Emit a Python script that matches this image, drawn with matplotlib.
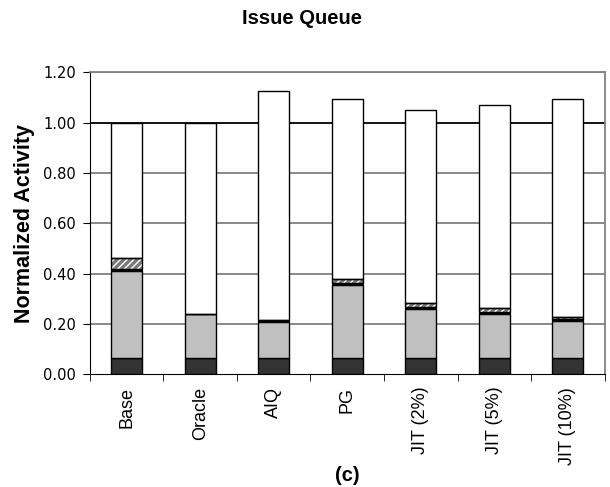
import numpy as np
import matplotlib
matplotlib.use("Agg")
import matplotlib.pyplot as plt

# activity breakdown per issue-queue scheme (stacked, normalized to Base)
labels = ['Base', 'Oracle', 'AIQ', 'PG', 'JIT (2%)', 'JIT (5%)', 'JIT (10%)']
seg_dark = [0.063, 0.063, 0.063, 0.063, 0.063, 0.063, 0.063]
seg_gray = [0.347, 0.176, 0.143, 0.291, 0.196, 0.176, 0.149]
seg_black = [0.010, 0.000, 0.009, 0.009, 0.009, 0.009, 0.006]
seg_hatch = [0.042, 0.000, 0.000, 0.017, 0.017, 0.017, 0.010]
totals = [1.000, 1.000, 1.125, 1.095, 1.050, 1.070, 1.095]

seg_white = [t - (a + b + c + d) for t, a, b, c, d in
             zip(totals, seg_dark, seg_gray, seg_black, seg_hatch)]

plt.rcParams['font.family'] = ['Liberation Sans', 'DejaVu Sans']

fig = plt.figure(figsize=(6.1, 4.87), dpi=100)
ax = fig.add_axes([0.1475, 0.2314, 0.8435, 0.6201])

x = np.arange(len(labels))
w = 0.42
bottom = np.zeros(len(labels))

ax.bar(x, seg_dark, w, bottom=bottom, color='#333333', edgecolor='black', linewidth=1, zorder=3)
bottom += seg_dark
ax.bar(x, seg_gray, w, bottom=bottom, color='#c0c0c0', edgecolor='black', linewidth=1, zorder=3)
bottom += seg_gray
ax.bar(x, seg_black, w, bottom=bottom, color='black', edgecolor='black', linewidth=0.8, zorder=3)
bottom += seg_black
# hatched layer: white stripes on gray, then black outline on top
ax.bar(x, seg_hatch, w, bottom=bottom, color='#7a7a7a', edgecolor='white', hatch='/////',
       linewidth=0, zorder=3)
ax.bar(x, seg_hatch, w, bottom=bottom, color='none', edgecolor='black', linewidth=1, zorder=4)
bottom += seg_hatch
ax.bar(x, seg_white, w, bottom=bottom, color='white', edgecolor='black', linewidth=1, zorder=3)

ax.set_xlim(-0.5, len(labels) - 0.5)
ax.set_ylim(0, 1.2)
yt = np.arange(0, 1.21, 0.2)
ax.set_yticks(yt)
ax.set_yticklabels(['%.2f' % v for v in yt], fontsize=10.5, family=['DejaVu Sans'])
ax.set_xticks(x)
ax.set_xticklabels(labels, rotation=90, fontsize=13,
                   family=['Liberation Sans Narrow', 'Liberation Sans'])
ax.set_xticks(np.arange(-0.5, len(labels), 1.0), minor=True)
ax.tick_params(axis='x', which='major', length=0, pad=9)
ax.tick_params(axis='x', which='minor', length=5, direction='out', color='black')
ax.tick_params(axis='y', length=5, direction='out', color='black', pad=5)

for v in yt[1:]:
    ax.axhline(v, color='black' if abs(v - 1.0) < 1e-6 else '#808080',
               linewidth=1.3, zorder=1)

for s in ['top', 'right']:
    ax.spines[s].set_color('#808080')
    ax.spines[s].set_linewidth(1.3)
ax.spines['left'].set_color('black')
ax.spines['bottom'].set_color('black')

ax.set_ylabel('Normalized Activity', fontsize=15.5, fontweight='bold', labelpad=6)
fig.text(0.495, 0.961, 'Issue Queue', ha='center', va='center', fontsize=14.5, fontweight='bold')
fig.text(0.569, 0.024, '(c)', ha='center', va='center', fontsize=14.5, fontweight='bold')

fig.savefig('out.png', dpi=100)
